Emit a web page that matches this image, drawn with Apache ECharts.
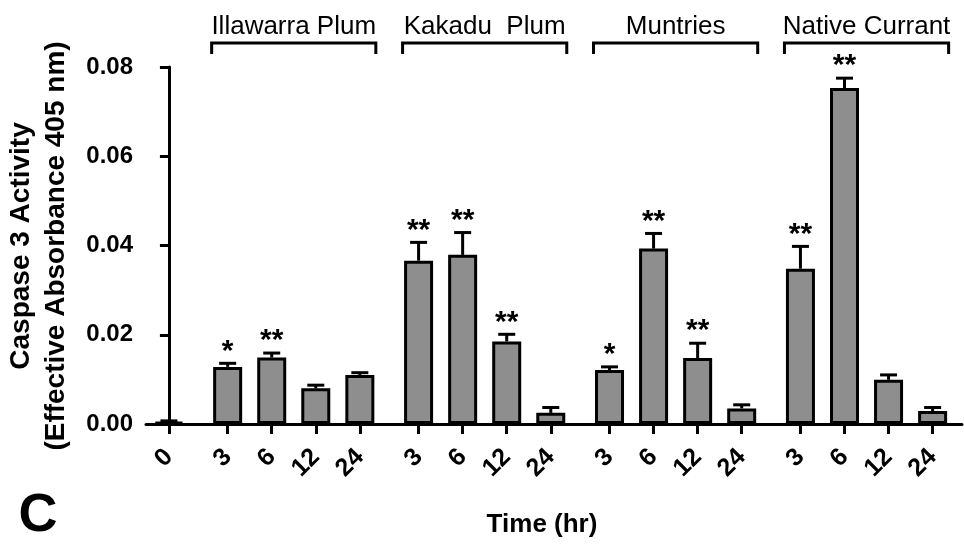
<!DOCTYPE html>
<html><head><meta charset="utf-8">
<script src="https://cdn.jsdelivr.net/npm/echarts@6/dist/echarts.min.js"></script>
<style>html,body{margin:0;padding:0;background:#fff}#c{width:964px;height:545px}</style>
</head><body><div id="c"></div>
<script>
// ---- data ----
const groupNames = ['Illawarra Plum', 'Kakadu  Plum', 'Muntries', 'Native Currant'];
const timeLabels = ['0', '3', '6', '12', '24', '3', '6', '12', '24', '3', '6', '12', '24', '3', '6', '12', '24'];
const groupOf    = [-1, 0, 0, 0, 0, 1, 1, 1, 1, 2, 2, 2, 2, 3, 3, 3, 3];
const means = [0.0004, 0.0128, 0.0149, 0.0080, 0.0110, 0.0366, 0.0379, 0.0185, 0.0025,
               0.0121, 0.0393, 0.0148, 0.0035, 0.0348, 0.0753, 0.0099, 0.0029];
const sems  = [0.0003, 0.0008, 0.0010, 0.0007, 0.0005, 0.0041, 0.0050, 0.0016, 0.0012,
               0.0007, 0.0034, 0.0033, 0.0008, 0.0050, 0.0022, 0.0011, 0.0008];
const stars = ['', '*', '**', '', '', '**', '**', '**', '', '*', '**', '**', '', '**', '**', '', ''];
const yMin = 0, yMax = 0.08, yStep = 0.02;

// slot positions: one slot per bar, plus 1/3 slot gap before each group
const positions = timeLabels.map((t, i) => i === 0 ? 0 : i + (groupOf[i] + 1) / 3);
const groupSpans = groupNames.map((n, g) => {
  const idx = groupOf.map((v, i) => v === g ? i : -1).filter(i => i >= 0);
  return [positions[idx[0]], yMax, positions[idx[idx.length - 1]], g];
});

const FONT = 'Liberation Sans, Arial, Helvetica, sans-serif';
const chart = echarts.init(document.getElementById('c'), null, {renderer: 'canvas'});
const labelFor = v => {
  const i = positions.findIndex(p => Math.abs(p - v) < 1e-6);
  return i >= 0 ? timeLabels[i] : '';
};

chart.setOption({
  animation: false,
  backgroundColor: '#fff',
  grid: {left: 146, right: 2, top: 67, bottom: 121, containLabel: false},
  xAxis: {
    type: 'value', min: -0.52, max: 18, splitLine: {show: false},
    axisLine: {show: true, lineStyle: {color: '#000', width: 3}},
    axisTick: {show: true, customValues: positions, length: 10, lineStyle: {color: '#000', width: 3}},
    axisLabel: {show: true, customValues: positions, formatter: labelFor, rotate: 45, margin: 29,
      color: '#000', fontFamily: FONT, fontWeight: 'bold', fontSize: 25}
  },
  yAxis: {
    type: 'value', min: yMin, max: yMax, interval: yStep, splitLine: {show: false},
    axisLine: {show: true, lineStyle: {color: '#000', width: 3}},
    axisTick: {show: true, length: 9, lineStyle: {color: '#000', width: 3}},
    axisLabel: {formatter: v => v.toFixed(2), margin: 13, color: '#000',
      fontFamily: FONT, fontWeight: 'bold', fontSize: 24}
  },
  series: [
    {
      type: 'bar', barWidth: 29,
      data: positions.map((p, i) => [p, means[i]]),
      itemStyle: {color: '#8e8e8e', borderColor: '#000', borderWidth: 3}
    },
    {
      type: 'custom', clip: false,
      encode: {x: 0, y: [1, 2]},
      data: positions.map((p, i) => [p, means[i], means[i] + sems[i], i]),
      renderItem: (params, api) => {
        const b = api.coord([api.value(0), api.value(1)]);
        const t = api.coord([api.value(0), api.value(2)]);
        const s = stars[api.value(3)];
        const style = {stroke: '#000', lineWidth: 3};
        const children = [
          {type: 'line', shape: {x1: b[0], y1: b[1], x2: t[0], y2: t[1]}, style},
          {type: 'line', shape: {x1: t[0] - 8.5, y1: t[1], x2: t[0] + 8.5, y2: t[1]}, style}
        ];
        if (s) children.push({type: 'text', style: {text: s, x: t[0], y: t[1] - 12,
          align: 'center', verticalAlign: 'middle', fill: '#000',
          font: 'bold 30px ' + FONT}});
        return {type: 'group', children};
      }
    },
    {
      type: 'custom', clip: false,
      encode: {x: [0, 2], y: 1},
      data: groupSpans,
      renderItem: (params, api) => {
        const half = 16;
        const x1 = api.coord([api.value(0), api.value(1)])[0] - half;
        const x2 = api.coord([api.value(2), api.value(1)])[0] + half;
        const yTop = api.coord([api.value(0), api.value(1)])[1] - 24;
        return {type: 'group', children: [
          {type: 'polyline', shape: {points: [[x1, yTop + 11], [x1, yTop], [x2, yTop], [x2, yTop + 11]]},
            style: {stroke: '#000', lineWidth: 3, fill: null}},
          {type: 'text', style: {text: groupNames[api.value(3)], x: (x1 + x2) / 2, y: yTop - 16.5,
            align: 'center', verticalAlign: 'middle', fill: '#000', font: '26px ' + FONT}}
        ]};
      }
    }
  ],
  graphic: [
    {type: 'text', x: 21, y: 246, rotation: Math.PI / 2,
      style: {text: 'Caspase 3 Activity', align: 'center', verticalAlign: 'middle', fill: '#000', font: 'bold 28px ' + FONT}},
    {type: 'text', x: 56, y: 246, rotation: Math.PI / 2,
      style: {text: '(Effective Absorbance 405 nm)', align: 'center', verticalAlign: 'middle', fill: '#000', font: 'bold 28px ' + FONT}},
    {type: 'text', x: 542, y: 525,
      style: {text: 'Time (hr)', align: 'center', verticalAlign: 'middle', fill: '#000', font: 'bold 26px ' + FONT}},
    {type: 'text', x: 38, y: 516,
      style: {text: 'C', align: 'center', verticalAlign: 'middle', fill: '#000', font: 'bold 54px ' + FONT}}
  ]
});
</script></body></html>
